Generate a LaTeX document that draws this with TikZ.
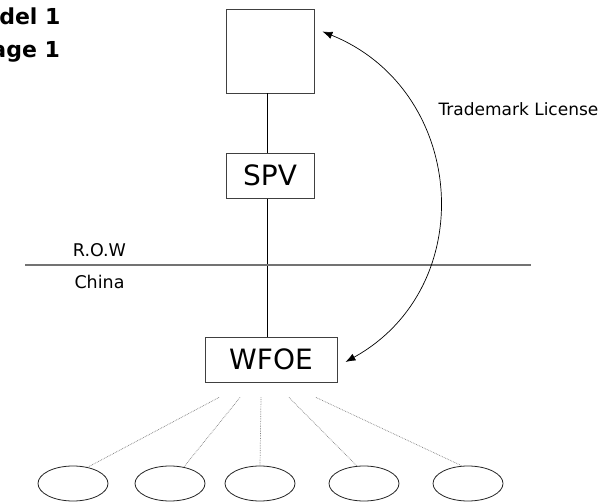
\documentclass[tikz,border=0pt]{standalone}
\usepackage{fontspec}
\setmainfont{DejaVu Sans}
\usetikzlibrary{arrows.meta,shapes.geometric}

\begin{document}
\begin{tikzpicture}[x=1pt,y=1pt,
  entity/.style={draw=black!75, line width=0.9pt, inner sep=0pt, fill=white},
  holder/.style={entity, minimum width=88pt, minimum height=84pt},
  bigbox/.style={entity, font=\fontsize{28}{30}\selectfont},
  subco/.style={ellipse, draw=black!85, line width=0.8pt, inner sep=0pt,
                minimum width=70pt, minimum height=35pt},
  owns/.style={line width=0.8pt, black},
  border/.style={line width=1.4pt, black!55},
  zonetext/.style={font=\fontsize{17.5}{20}\selectfont, anchor=base},
  branch/.style={densely dotted, line width=0.7pt, black!50},
  licence/.style={line width=0.7pt, {Latex[length=10pt,width=7.5pt]}-{Latex[length=10pt,width=7.5pt]}},
  titletext/.style={font=\bfseries\fontsize{22}{24}\selectfont, anchor=base east}
]
\useasboundingbox (0,0) rectangle (609,502);
\fill[white] (0,0) rectangle (609,502);

% title lines at the top left
\node[titletext] (title1) at (64,477) {del 1};
\node[titletext] (title2) at (63.5,444.5) {age 1};

% ownership chain
\node[holder] (top) at (270,451) {};
\node[bigbox, minimum width=88pt, minimum height=45pt] (spv) at (270,326.25) {SPV};
\node[bigbox, minimum width=132pt, minimum height=45pt] (wfoe) at (271,142.5) {WFOE};

\draw[owns] ([xshift=-3pt]top.south) -- ([xshift=-3pt]spv.south |- spv.north);
\draw[owns] ([xshift=-3pt]spv.south) -- ([xshift=-3pt]spv.south |- wfoe.north);

% jurisdiction border
\coordinate (borderL) at (25,237);
\coordinate (borderR) at (531,237);
\draw[border] (borderL) -- (borderR);
\node[zonetext] (row) at (99.5,245.3) {R.O.W};
\node[zonetext] (china) at (99.5,213.7) {China};

% trademark licence between the holder and the WFOE
\coordinate (licA) at ([shift={(8pt,-23pt)}]top.north east);
\coordinate (licB) at ([shift={(8pt,-2.5pt)}]wfoe.east);
\draw[licence] (licA) to[out=-22, in=29, looseness=1.2] (licB);
\node[font=\fontsize{17}{20}\selectfont, anchor=base west] (tm) at (435,386) {Trademark License};

% subsidiaries
\node[subco] (e1) at (73,18.5) {};
\node[subco] (e2) at (170,18.5) {};
\node[subco] (e3) at (260,18.5) {};
\node[subco] (e4) at (364,18.5) {};
\node[subco] (e5) at (468,18.5) {};

\coordinate (s1) at ([shift={(-52pt,-15pt)}]wfoe.south);
\coordinate (s2) at ([shift={(-31pt,-15pt)}]wfoe.south);
\coordinate (s3) at ([shift={(-10pt,-15pt)}]wfoe.south);
\coordinate (s4) at ([shift={(18pt,-15pt)}]wfoe.south);
\coordinate (s5) at ([shift={(45pt,-15pt)}]wfoe.south);

\draw[branch] (s1) -- (e1.48);
\draw[branch] (s2) -- (e2.50);
\draw[branch] (s3) -- (e3.north);
\draw[branch] (s4) -- (e4.112);
\draw[branch] (s5) -- (e5.109);
\end{tikzpicture}
\end{document}
